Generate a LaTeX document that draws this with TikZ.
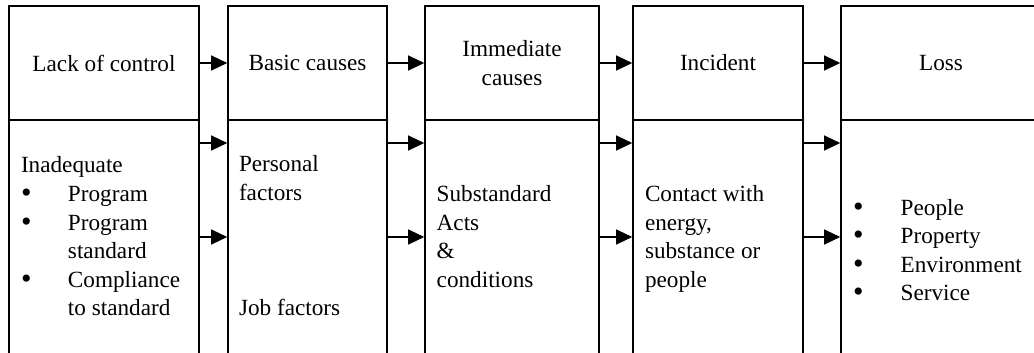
\documentclass[tikz,border=0pt]{standalone}
\usepackage{fontspec}
\setmainfont{Liberation Serif}
\usetikzlibrary{arrows.meta}
\newcommand{\blt}{{\fontsize{30}{28.5}\selectfont\raisebox{-1.2pt}{•}}}
\begin{document}
\begin{tikzpicture}[x=1pt,y=-1pt,
  every node/.style={font=\fontsize{23.2}{28.5}\selectfont},
  cell/.style={draw, line width=1.6pt, rectangle, inner sep=0pt, align=center},
  txt/.style={anchor=base west, inner sep=0pt, outer sep=0pt},
  arr/.style={line width=1.3pt, -{Triangle[length=16pt,width=15pt]}}]
\clip (0,0) rectangle (1034,353);
\fill[white] (0,0) rectangle (1034,353);

% heading cells
\node[cell, minimum width=190pt, minimum height=114pt] (t1) at (104,63) {Lack of control};
\node[cell, minimum width=159pt, minimum height=114pt] (t2) at (307.5,63) {Basic causes};
\node[cell, minimum width=174pt, minimum height=114pt] (t3) at (512,63) {Immediate\\causes};
\node[cell, minimum width=170pt, minimum height=114pt] (t4) at (718,63) {Incident};
\node[cell, minimum width=200pt, minimum height=114pt] (t5) at (941,63) {Loss};

% detail cells (open at the bottom)
\node[cell, minimum width=190pt, minimum height=250pt] (b1) at (104,245) {};
\node[cell, minimum width=159pt, minimum height=250pt] (b2) at (307.5,245) {};
\node[cell, minimum width=174pt, minimum height=250pt] (b3) at (512,245) {};
\node[cell, minimum width=170pt, minimum height=250pt] (b4) at (718,245) {};
\node[cell, minimum width=200pt, minimum height=250pt] (b5) at (941,245) {};

% detail texts
\node[txt] (d1) at (21,172) {\begin{tabular}[t]{@{}p{47pt}@{}l@{}}
  \multicolumn{2}{@{}l@{}}{Inadequate}\\[1.2pt]
  \blt & Program\\
  \blt & Program\\
       & standard\\
  \blt & Compliance\\
       & to standard
\end{tabular}};
\node[txt] (d2a) at (239,171.7) {\begin{tabular}[t]{@{}l@{}}Personal\\factors\end{tabular}};
\node[txt] (d2b) at (239,315) {Job factors};
\node[txt] (d3) at (436.7,201.7) {\begin{tabular}[t]{@{}l@{}}Substandard\\Acts\\\&\\conditions\end{tabular}};
\node[txt] (d4) at (645,201.7) {\begin{tabular}[t]{@{}l@{}}Contact with\\energy,\\substance or\\people\end{tabular}};
\node[txt] (d5) at (853,215) {\begin{tabular}[t]{@{}p{47.7pt}@{}l@{}}
  \blt & People\\
  \blt & Property\\
  \blt & Environment\\
  \blt & Service
\end{tabular}};

% arrow rows
\coordinate (r1) at (0,143);
\coordinate (r2) at (0,237);

\foreach \a/\b in {1/2,2/3,3/4,4/5}{
  \draw[arr] (t\a.east) -- (t\b.west);
  \draw[arr] (b\a.east |- r1) -- (b\b.west |- r1);
  \draw[arr] (b\a.east |- r2) -- (b\b.west |- r2);
}
\end{tikzpicture}
\end{document}
